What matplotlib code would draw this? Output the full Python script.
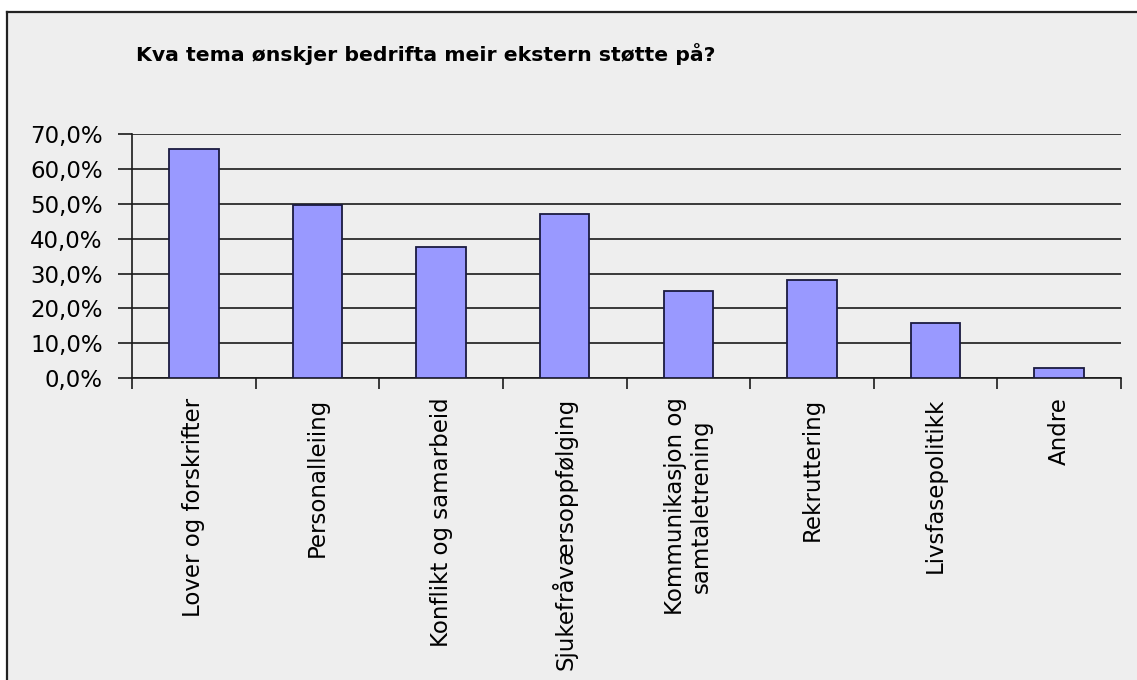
import matplotlib
matplotlib.use("Agg")
import matplotlib.pyplot as plt
from matplotlib.patches import Rectangle
from matplotlib.lines import Line2D
from matplotlib.ticker import FuncFormatter, FixedLocator

categories = [
    "Lover og forskrifter",
    "Personalleiing",
    "Konflikt og samarbeid",
    "Sjukefråværsoppfølging",
    "Kommunikasjon og\nsamtaletrening",
    "Rekruttering",
    "Livsfasepolitikk",
    "Andre",
]
values = [0.658, 0.498, 0.376, 0.472, 0.250, 0.281, 0.159, 0.030]
y_ticks = [0.0, 0.1, 0.2, 0.3, 0.4, 0.5, 0.6, 0.7]
title = "Kva tema ønskjer bedrifta meir ekstern støtte på?"

W, H = 1137, 680
BG = "#eeeeee"
BAR = "#9999ff"
EDGE = "#1a1a40"

plt.rcParams["font.family"] = ["DejaVu Sans"]

fig = plt.figure(figsize=(W / 100, H / 100), dpi=100)
fig.patch.set_facecolor("white")

# grey chart area with a dark border on its top and left edges
fig.patches.append(Rectangle((7 / W, 0), 1, 1 - 12 / H, transform=fig.transFigure,
                             facecolor=BG, edgecolor="none", zorder=-5))
fig.lines.append(Line2D([7 / W, 7 / W], [0, 1 - 12 / H], transform=fig.transFigure,
                        color="#222222", lw=1.6, zorder=-4))
fig.lines.append(Line2D([7 / W, 1], [1 - 12 / H, 1 - 12 / H], transform=fig.transFigure,
                        color="#222222", lw=1.6, zorder=-4))

fig.text(136 / W, 1 - 61 / H, title, fontsize=14.7, fontweight="bold",
         ha="left", va="baseline", color="black")

ax = fig.add_axes([132 / W, 1 - 378 / H, 989 / W, (378 - 134.3) / H])
ax.set_zorder(2)
ax.set_facecolor(BG)

x = list(range(len(categories)))
ax.bar(x, values, width=0.4, color=BAR, edgecolor=EDGE, linewidth=1.3, zorder=3)

ax.set_xlim(-0.5, len(categories) - 0.5)
ax.set_ylim(0, 0.70)

ax.yaxis.set_major_locator(FixedLocator(y_ticks))
ax.yaxis.set_major_formatter(FuncFormatter(lambda v, p: f"{v * 100:.1f}%".replace(".", ",")))
ax.grid(axis="y", color="#1a1a1a", linewidth=1.2, zorder=1)
ax.set_axisbelow(True)

ax.set_xticks(x)
ax.set_xticklabels(categories, rotation=90, ha="center", va="top",
                   multialignment="center", fontsize=16.5)
ax.set_xticks([i - 0.5 for i in range(len(categories) + 1)], minor=True)
ax.tick_params(axis="x", which="major", length=0, pad=14)
ax.tick_params(axis="x", which="minor", length=8, width=1.2, direction="out", color="#1a1a1a")
ax.tick_params(axis="y", length=10, width=1.2, direction="out", pad=11,
               labelsize=16.5, color="#1a1a1a")

for side in ("top", "right"):
    ax.spines[side].set_visible(False)
for side in ("left", "bottom"):
    ax.spines[side].set_color("#1a1a1a")
    ax.spines[side].set_linewidth(1.2)

fig.savefig("out.png", dpi=100, facecolor=fig.get_facecolor())
